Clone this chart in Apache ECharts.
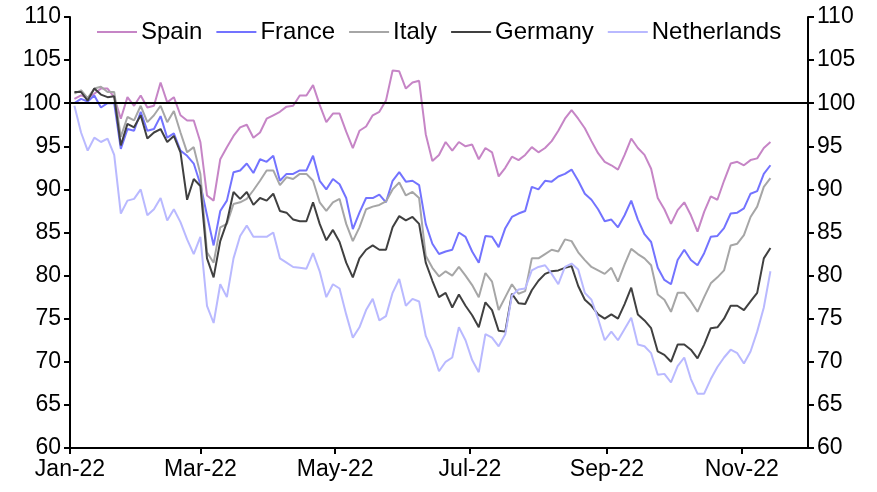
<!DOCTYPE html>
<html>
<head>
<meta charset="utf-8">
<script src="https://cdn.jsdelivr.net/npm/echarts@6/dist/echarts.min.js"></script>
<style>
html,body{margin:0;padding:0;background:#fff;}
#chart{width:877px;height:492px;}
</style>
</head>
<body>
<div id="chart"></div>
<script>
// Sampling: first sample on 2022-01-03, one sample every 3 calendar days
const startDate = '2022-01-03';
const stepDays = 3;

const seriesNames = ['Spain', 'France', 'Italy', 'Germany', 'Netherlands'];

const spain = [100.5, 100.9, 100.6, 101.1, 101.7, 101.7, 100.7, 98.2, 100.7, 99.7, 100.9, 99.5, 99.7, 102.4, 100.1, 100.7, 98.6, 98.0, 98.0, 95.5, 89.3, 88.7,
  93.5, 94.9, 96.2, 97.2, 97.5, 96.0, 96.6, 98.2, 98.6, 99.0, 99.6, 99.7, 100.9, 100.9, 102.1, 99.8, 97.8, 98.8, 98.8, 96.7, 94.8, 96.8,
  97.3, 98.6, 99.0, 100.3, 103.8, 103.7, 101.7, 102.4, 102.6, 96.4, 93.3, 94.0, 95.5, 94.5, 95.5, 95.0, 95.2, 93.5, 94.8, 94.3, 91.5,
  92.5, 93.8, 93.4, 94.0, 94.9, 94.3, 94.8, 95.6, 96.8, 98.2, 99.2, 98.2, 97.1, 95.6, 94.2, 93.2, 92.8, 92.3, 94.0, 95.9, 94.8,
  94.0, 92.4, 89.0, 87.7, 86.0, 87.6, 88.5, 87.0, 85.1, 87.4, 89.2, 88.8, 91.0, 93.0, 93.2, 92.8, 93.4, 93.6, 94.8, 95.5];

const france = [100.0, 100.5, 100.2, 100.9, 99.5, 100.0, 100.0, 94.7, 97.0, 96.8, 99.0, 96.8, 97.0, 98.5, 96.0, 96.5, 94.5, 93.9, 93.0, 90.6, 87.0, 83.5,
  87.5, 88.7, 92.0, 92.2, 93.0, 91.9, 93.5, 93.2, 93.9, 91.0, 91.8, 91.8, 92.2, 92.2, 93.9, 91.0, 90.0, 91.2, 90.6, 89.0, 85.4, 87.3,
  89.0, 89.0, 89.4, 88.5, 91.0, 92.0, 90.9, 91.0, 90.5, 86.0, 83.7, 82.5, 82.8, 83.0, 85.0, 84.5, 82.8, 81.5, 84.6, 84.5, 83.3,
  85.5, 86.8, 87.2, 87.5, 90.3, 90.0, 91.0, 90.9, 91.5, 91.8, 92.3, 91.0, 89.5, 88.8, 87.7, 86.3, 86.5, 85.6, 87.0, 88.7, 86.5,
  84.8, 83.9, 80.9, 79.5, 79.0, 81.8, 83.0, 81.8, 81.2, 82.6, 84.5, 84.6, 85.5, 87.2, 87.3, 87.8, 89.5, 89.8, 91.8, 92.8];

const italy = [101.1, 101.5, 100.6, 101.7, 101.9, 101.3, 101.3, 96.1, 98.4, 98.0, 99.7, 97.8, 98.6, 99.7, 97.8, 99.1, 96.6, 94.3, 94.9, 91.8, 82.7, 81.5,
  85.6, 86.0, 88.3, 88.5, 88.9, 89.9, 91.0, 92.2, 92.2, 90.5, 91.4, 91.2, 91.8, 91.8, 91.0, 88.5, 87.5, 88.5, 88.9, 86.0, 84.0, 85.6,
  87.7, 88.0, 88.2, 88.6, 90.0, 90.8, 89.3, 89.7, 89.0, 82.3, 80.9, 79.9, 80.5, 80.0, 81.0, 80.0, 78.9, 77.5, 80.3, 79.3, 76.0,
  77.5, 79.0, 77.9, 78.2, 82.0, 82.0, 82.5, 83.0, 82.8, 84.2, 84.0, 82.7, 81.8, 81.0, 80.6, 80.2, 80.9, 79.3, 81.3, 83.1, 82.5,
  82.0, 81.2, 77.8, 77.2, 75.8, 78.0, 78.0, 77.0, 75.8, 77.5, 79.1, 79.8, 80.6, 83.5, 83.7, 84.7, 86.8, 88.0, 90.3, 91.3];

const germany = [101.3, 101.3, 100.3, 101.7, 101.0, 100.7, 100.8, 95.1, 97.6, 97.2, 98.6, 95.9, 96.6, 97.0, 95.5, 96.2, 94.3, 88.8, 91.2, 90.4, 82.0, 79.8,
  84.0, 86.2, 89.7, 88.9, 89.7, 88.2, 89.0, 88.7, 89.5, 87.5, 87.3, 86.5, 86.3, 86.3, 88.5, 86.0, 84.1, 85.3, 83.9, 81.5, 79.8, 82.0,
  83.0, 83.5, 83.0, 83.0, 85.6, 86.9, 86.4, 86.8, 86.0, 81.5, 79.4, 77.5, 78.0, 76.3, 77.8, 76.5, 75.4, 74.0, 76.9, 76.0, 73.6,
  73.5, 77.9, 76.8, 76.7, 78.3, 79.4, 80.2, 80.5, 80.6, 80.9, 81.1, 78.8, 77.2, 76.5, 75.5, 75.0, 75.5, 75.0, 76.7, 78.6, 75.5,
  74.8, 73.9, 71.2, 70.8, 70.0, 72.0, 72.0, 71.4, 70.4, 72.0, 73.9, 74.0, 75.0, 76.5, 76.5, 76.0, 77.0, 78.0, 82.0, 83.2];

const netherlands = [99.7, 96.6, 94.5, 96.0, 95.5, 95.9, 94.0, 87.2, 88.7, 88.9, 90.0, 87.0, 87.7, 89.0, 86.4, 87.7, 86.2, 84.2, 82.5, 84.5, 76.5, 74.5,
  79.0, 77.5, 82.0, 84.6, 85.8, 84.5, 84.5, 84.5, 85.0, 82.0, 81.5, 81.0, 80.9, 80.8, 82.6, 80.5, 77.5, 79.0, 78.5, 75.5, 72.8, 74.0,
  76.0, 77.3, 74.8, 75.3, 78.0, 79.6, 76.5, 77.3, 77.0, 73.0, 71.3, 68.9, 70.0, 70.5, 74.0, 72.5, 70.2, 68.8, 73.2, 72.8, 71.8,
  73.2, 77.7, 78.4, 78.5, 80.6, 81.0, 81.2, 80.2, 79.0, 81.0, 81.4, 80.7, 78.0, 77.2, 75.0, 72.5, 73.5, 72.5, 73.8, 75.1, 72.0,
  71.8, 71.0, 68.5, 68.6, 67.6, 69.5, 70.5, 68.0, 66.3, 66.3, 68.0, 69.4, 70.5, 71.4, 71.0, 69.8, 71.2, 73.5, 76.3, 80.5];

const tickDates = ['2022-01-01', '2022-03-01', '2022-05-01', '2022-07-01', '2022-09-01', '2022-11-01'];
const tickLabels = ['Jan-22', 'Mar-22', 'May-22', 'Jul-22', 'Sep-22', 'Nov-22'];
const axisStart = '2022-01-01';
const axisEnd = '2022-12-01';
const yTicks = [60, 65, 70, 75, 80, 85, 90, 95, 100, 105, 110];
const refLine = 100;

const colors = ['#c685c6', '#7373ff', '#a6a6a6', '#404040', '#b9b9ff'];

const DAY = 86400000;
function dayNum(s) { return Math.round((Date.parse(s + 'T00:00:00Z') - Date.parse(axisStart + 'T00:00:00Z')) / DAY); }
const firstDay = dayNum(startDate);
function toPairs(arr) { return arr.map((v, i) => [firstDay + i * stepDays, v]); }

const tickDays = tickDates.map(dayNum);
const labelMap = {};
tickDays.forEach((d, i) => { labelMap[d] = tickLabels[i]; });

const allData = [spain, france, italy, germany, netherlands];
const FONT = 'Liberation Sans, Arial, sans-serif';

const series = allData.map((arr, i) => ({
  name: seriesNames[i],
  type: 'line',
  data: toPairs(arr),
  symbol: 'none',
  showSymbol: false,
  smooth: false,
  lineStyle: { color: colors[i], width: 2 },
  itemStyle: { color: colors[i] },
  z: 3,
  animation: false
}));
series[0].markLine = {
  silent: true,
  symbol: 'none',
  label: { show: false },
  lineStyle: { color: '#000', width: 2, type: 'solid' },
  data: [{ yAxis: refLine }],
  animation: false
};

const yAxisCommon = {
  type: 'value', min: yTicks[0], max: yTicks[yTicks.length - 1], interval: 5,
  splitLine: { show: false },
  axisLine: { show: true, lineStyle: { color: '#000', width: 2 } },
  axisTick: { show: true, length: 6, lineStyle: { color: '#000', width: 2 } },
  axisLabel: { color: '#000', fontSize: 23, fontFamily: FONT, margin: 9 }
};

const chart = echarts.init(document.getElementById('chart'), null, { renderer: 'canvas' });
chart.setOption({
  animation: false,
  backgroundColor: '#fff',
  grid: { left: 70, right: 69, top: 17, bottom: 44, containLabel: false },
  legend: {
    data: seriesNames,
    left: 92, top: 15,
    icon: 'rect', itemWidth: 40, itemHeight: 2, itemGap: 14,
    textStyle: { color: '#000', fontSize: 24, fontFamily: FONT, padding: [0, 0, 0, -1] }
  },
  xAxis: {
    type: 'value', min: 0, max: dayNum(axisEnd),
    splitLine: { show: false },
    axisLine: { show: true, lineStyle: { color: '#000', width: 2 } },
    axisTick: { show: true, length: 6, lineStyle: { color: '#000', width: 2 }, customValues: tickDays },
    axisLabel: { color: '#000', fontSize: 23, fontFamily: FONT, margin: 10, customValues: tickDays,
      formatter: v => labelMap[v] || '' }
  },
  yAxis: [
    Object.assign({}, yAxisCommon, { position: 'left' }),
    Object.assign({}, yAxisCommon, { position: 'right' })
  ],
  series: series
});
</script>
</body>
</html>
